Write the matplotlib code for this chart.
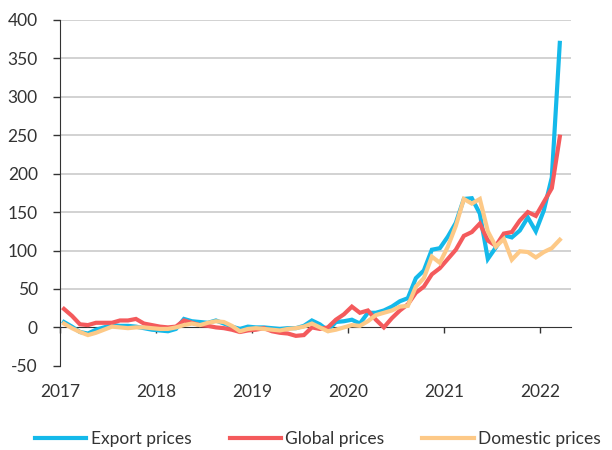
import numpy as np
import matplotlib
matplotlib.use("Agg")
import matplotlib.pyplot as plt

# Monthly index values, Jan 2017 - Mar 2022
export_prices = [
    7, 1, -6, -8, -3, 0, 3, 2, 2, 1, -1, -3,
    -4, -5, -2, 11, 8, 7, 6, 9, 5, 1, -2, 1,
    0, 0, -1, -2, -1, -1, 2, 9, 4, -4, 7, 8,
    10, 5, 19, 19, 22, 27, 34, 38, 64, 74, 101, 103,
    118, 136, 167, 168, 148, 89, 104, 120, 117, 126, 143, 125,
    152, 195, 370,
]
global_prices = [
    24, 15, 4, 3, 6, 6, 6, 9, 9, 11, 5, 3,
    1, 0, 1, 9, 6, 3, 2, 0, -1, -3, -6, -4,
    -3, -1, -5, -7, -8, -11, -10, 0, -2, 0, 10, 17,
    27, 19, 22, 10, 0, 12, 22, 30, 45, 53, 69, 77,
    89, 101, 119, 124, 135, 113, 106, 122, 124, 139, 150, 145,
    163, 181, 248,
]
domestic_prices = [
    5, -1, -6, -10, -7, -3, 1, 0, -1, 0, 0, -1,
    -2, -2, 0, 3, 5, 3, 6, 8, 7, 2, -5, -2,
    -1, -2, -3, -4, -2, -1, 1, 5, 0, -5, -3, 0,
    3, 2, 8, 16, 19, 22, 27, 28, 53, 64, 92, 84,
    105, 132, 167, 161, 167, 125, 105, 115, 88, 99, 98, 91,
    98, 103, 114,
]
years = ["2017", "2018", "2019", "2020", "2021", "2022"]

plt.rcParams["font.family"] = ["Lato", "DejaVu Sans"]
plt.rcParams["axes.unicode_minus"] = False
text_col = "#333333"

fig = plt.figure(figsize=(6.12, 4.5), dpi=100)
ax = fig.add_axes([0.098, 0.187, 0.835, 0.769])

months = np.arange(len(export_prices)) + 0.5
series = [
    (export_prices, "Export prices", "#14B9EA"),
    (global_prices, "Global prices", "#F45A5C"),
    (domestic_prices, "Domestic prices", "#FDC987"),
]
for vals, label, col in series:
    ax.plot(months, vals, color=col, lw=3.0, label=label,
            solid_joinstyle="miter", zorder=3)

ax.set_ylim(-50, 400)
ax.set_yticks(np.arange(-50, 401, 50))
ax.set_xlim(0, 63.9)
ax.set_xticks(np.arange(len(years)) * 12)
ax.set_xticklabels(years)

for v in range(50, 401, 50):
    ax.axhline(v, color="#c6c6c6", lw=1.1, zorder=1)

for side in ["top", "right"]:
    ax.spines[side].set_visible(False)
ax.spines["bottom"].set_position(("data", 0))
ax.spines["bottom"].set_color(text_col)
ax.spines["bottom"].set_zorder(2)
ax.spines["left"].set_color(text_col)

ax.tick_params(axis="y", direction="out", length=5, width=1, color=text_col,
               labelsize=12.5, labelcolor=text_col, pad=11)
ax.tick_params(axis="x", direction="out", length=4, width=1, color=text_col,
               labelsize=12.5, labelcolor=text_col, pad=37)

fig.legend(loc="center", bbox_to_anchor=(318 / 612, 1 - 439 / 450), ncol=3,
           frameon=False, fontsize=12.5, handlelength=2.95, handletextpad=0.25,
           columnspacing=2.2, labelcolor=text_col)

fig.savefig("out.png", dpi=100)
